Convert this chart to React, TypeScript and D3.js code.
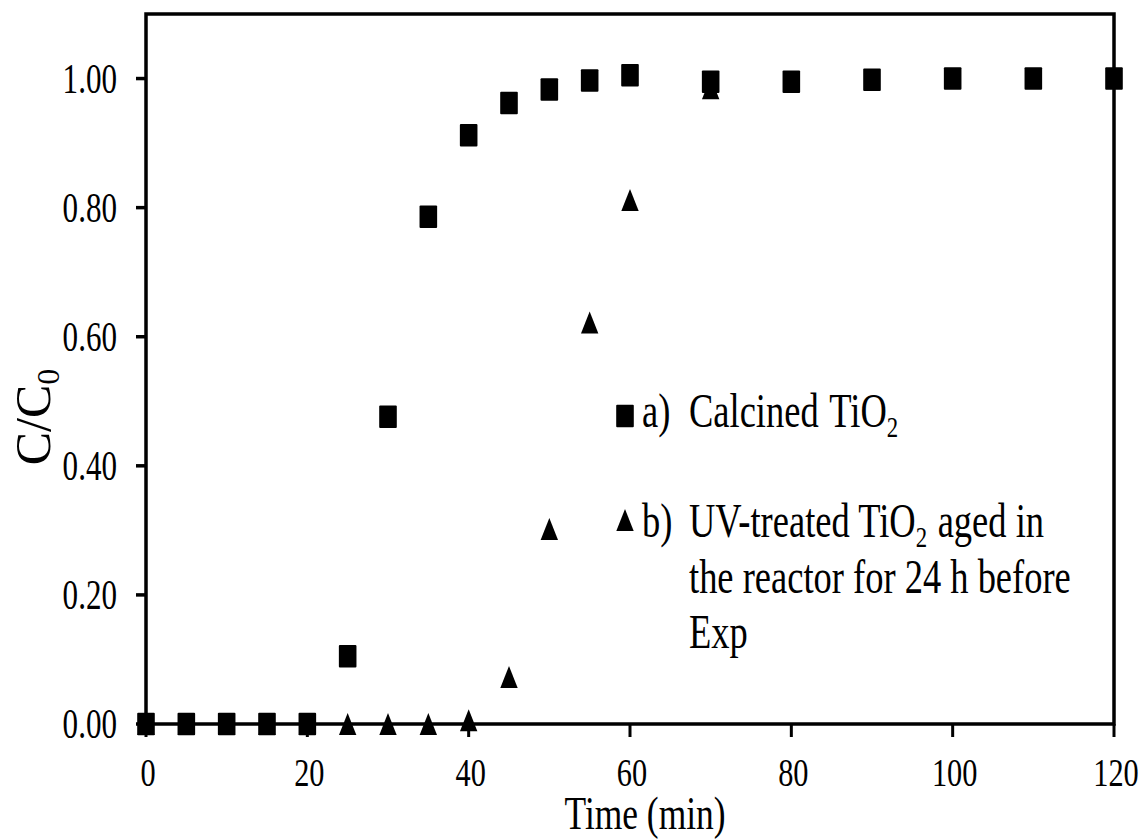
import React from "react";
import * as d3 from "d3";

const timeA = [0, 5, 10, 15, 20, 25, 30, 35, 40, 45, 50, 55, 60, 70, 80, 90, 100, 110, 120];
const valuesA = [0, 0, 0, 0, 0, 0.105, 0.476, 0.786, 0.912, 0.962, 0.983, 0.997, 1.005, 0.995, 0.995, 0.998, 1.0, 1.0, 1.0];
const timeB = [0, 5, 10, 15, 20, 25, 30, 35, 40, 45, 50, 55, 60, 70];
const valuesB = [0, 0, 0, 0, 0, 0, 0, 0, 0.006, 0.073, 0.302, 0.622, 0.812, 0.985];
const xTicks = [0, 20, 40, 60, 80, 100, 120];
const yTicks = [0, 0.2, 0.4, 0.6, 0.8, 1.0];

const W = 1142;
const H = 839;
const FONT = "'Liberation Serif', 'Times New Roman', serif";

export default function App() {
  const x = d3.scaleLinear().domain([0, 120]).range([146, 1114]);
  const y = d3.scaleLinear().domain([0, 1.1]).range([724, 14]);
  const fmt = d3.format(".2f");
  const sqW = 17.6, sqH = 22.5, trW = 17.4, trH = 22;
  const tri = (cx: number, cy: number) =>
    `M${cx - trW / 2},${cy + trH / 2}L${cx},${cy - trH / 2}L${cx + trW / 2},${cy + trH / 2}Z`;
  const pointsA = timeA.map((t, i) => ({ t, v: valuesA[i] }));
  const pointsB = timeB.map((t, i) => ({ t, v: valuesB[i] }));
  const sx = 0.74;
  const lx = 0.76;

  return (
    <svg width={W} height={H} style={{ position: "absolute", left: 0, top: 0, background: "#fff" }} fontFamily={FONT}>
      <rect x={0} y={0} width={W} height={H} fill="#fff" />
      {/* frame */}
      <rect x={x(0)} y={y(1.1)} width={x(120) - x(0)} height={y(0) - y(1.1)} fill="none" stroke="#000" strokeWidth={3.5} />
      {/* y ticks */}
      {yTicks.map((v) => (
        <g key={"y" + v}>
          <line x1={x(0) - 10} x2={x(0)} y1={y(v)} y2={y(v)} stroke="#000" strokeWidth={3.5} />
          <text transform={`translate(117,${y(v) + 14}) scale(${sx},1)`} textAnchor="end" fontSize={42} fill="#000">
            {fmt(v)}
          </text>
        </g>
      ))}
      {/* x ticks */}
      {xTicks.map((t) => (
        <g key={"x" + t}>
          <line x1={x(t)} x2={x(t)} y1={y(0)} y2={y(0) + 13} stroke="#000" strokeWidth={3} />
          <text transform={`translate(${x(t) + 2},786) scale(${sx},1)`} textAnchor="middle" fontSize={41} fill="#000">
            {t}
          </text>
        </g>
      ))}
      {/* axis titles */}
      <text transform={`translate(645,829) scale(0.77,1)`} textAnchor="middle" fontSize={46} fill="#000">
        Time (min)
      </text>
      <text transform={`translate(50,417) rotate(-90)`} textAnchor="middle" fontSize={50} fill="#000">
        C/C<tspan fontSize={32} dy={9}>0</tspan>
      </text>
      {/* series b: triangles */}
      {pointsB.map((p) => (
        <path key={"b" + p.t} d={tri(x(p.t), y(p.v))} fill="#000" />
      ))}
      {/* series a: squares */}
      {pointsA.map((p) => (
        <rect key={"a" + p.t} x={x(p.t) - sqW / 2} y={y(p.v) - sqH / 2} width={sqW} height={sqH} fill="#000" rx={1} />
      ))}
      {/* legend */}
      <rect x={625 - sqW / 2} y={416 - sqH / 2} width={sqW} height={sqH} fill="#000" rx={1} />
      <path d={tri(625, 520)} fill="#000" />
      <g fontSize={48} fill="#000">
        <text transform={`translate(642,427) scale(${lx},1)`}>a)</text>
        <text transform={`translate(689,427) scale(${lx},1)`}>
          Calcined<tspan dx={14}>TiO</tspan>
          <tspan fontSize={30} dy={10}>2</tspan>
        </text>
        <text transform={`translate(642,537) scale(${lx},1)`}>b)</text>
        <text transform={`translate(689,537) scale(${lx},1)`}>
          UV-treated TiO<tspan fontSize={30} dy={10}>2</tspan>
          <tspan dy={-10} dx={2}> aged in</tspan>
        </text>
        <text transform={`translate(689,593) scale(${lx},1)`}>the reactor for 24 h before</text>
        <text transform={`translate(689,648) scale(${lx},1)`}>Exp</text>
      </g>
    </svg>
  );
}
